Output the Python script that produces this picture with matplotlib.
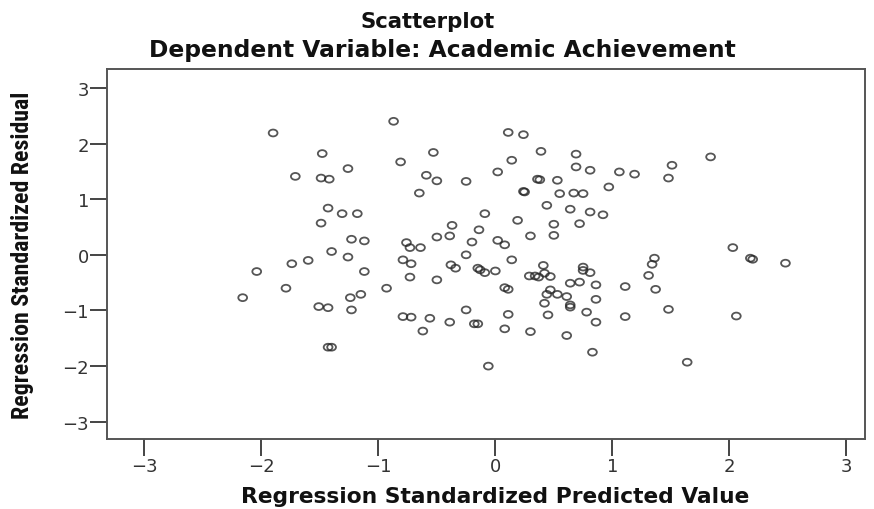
import numpy as np
import matplotlib
matplotlib.use("Agg")
import matplotlib.pyplot as plt
from matplotlib.path import Path
from matplotlib import font_manager

# Regression diagnostics: standardized predicted value vs standardized residual
pred = [
    -1.90, -1.48, -1.26, -1.71, -1.49, -1.42, -1.43, -1.31, -1.18, -1.49,
    -1.23, -1.12, -1.40, -1.26, -1.60, -1.12, -1.74, -2.04, -1.79, -2.16,
    -1.24, -1.15, -1.51, -1.43, -1.23, -1.43, -1.40, -0.81, -0.59, -0.50,
    -0.65, -0.76, -0.73, -0.64, -0.50, -0.79, -0.72, -0.73, -0.50, -0.93,
    -0.79, -0.72, -0.56, -0.62, -0.87, 0.11, 0.24, 0.39, 0.69, -0.53,
    0.14, -0.25, 0.02, 0.36, 0.38, 0.53, 0.69, 0.81, 1.06, 0.24,
    0.25, 0.55, 0.67, 0.75, 0.97, 0.44, 0.64, 0.81, 0.92, -0.09,
    0.19, 0.50, 0.72, 0.50, 0.30, -0.14, -0.37, -0.39, -0.20, 0.02,
    0.08, -0.25, 0.14, -0.38, -0.34, -0.15, -0.13, -0.09, 0.00, 0.41,
    0.29, 0.34, 0.37, 0.42, 0.47, 0.75, 0.75, 0.81, 0.08, 0.11,
    0.47, 0.44, 0.53, 0.61, 0.64, 0.72, 0.86, 1.11, 0.42, 0.64,
    0.64, 0.86, -0.25, 0.11, 0.45, 0.78, 1.11, -0.39, -0.18, -0.15,
    0.08, 0.30, 0.61, 0.86, 0.83, -0.06, 1.19, 1.51, 1.48, 1.84,
    2.03, 1.36, 2.18, 2.20, 2.48, 1.34, 1.31, 1.37, 1.48, 2.06,
    1.64,
]
resid = [
    2.19, 1.82, 1.55, 1.41, 1.38, 1.36, 0.84, 0.74, 0.74, 0.57,
    0.28, 0.25, 0.06, -0.04, -0.10, -0.30, -0.16, -0.30, -0.60, -0.77,
    -0.77, -0.71, -0.93, -0.95, -0.99, -1.66, -1.66, 1.67, 1.43, 1.33,
    1.11, 0.22, 0.13, 0.13, 0.32, -0.09, -0.16, -0.40, -0.45, -0.60,
    -1.11, -1.12, -1.14, -1.37, 2.40, 2.20, 2.16, 1.86, 1.81, 1.84,
    1.70, 1.32, 1.49, 1.36, 1.35, 1.34, 1.58, 1.52, 1.49, 1.14,
    1.13, 1.10, 1.11, 1.10, 1.22, 0.89, 0.82, 0.77, 0.72, 0.74,
    0.62, 0.55, 0.56, 0.35, 0.34, 0.45, 0.53, 0.34, 0.23, 0.26,
    0.18, 0.00, -0.09, -0.18, -0.24, -0.24, -0.27, -0.32, -0.29, -0.19,
    -0.38, -0.38, -0.40, -0.33, -0.39, -0.22, -0.28, -0.32, -0.59, -0.62,
    -0.63, -0.71, -0.71, -0.75, -0.51, -0.49, -0.54, -0.57, -0.87, -0.90,
    -0.94, -0.80, -0.99, -1.07, -1.08, -1.03, -1.11, -1.21, -1.24, -1.24,
    -1.33, -1.38, -1.45, -1.21, -1.75, -2.00, 1.45, 1.61, 1.38, 1.76,
    0.13, -0.06, -0.06, -0.08, -0.15, -0.17, -0.37, -0.62, -0.98, -1.10,
    -1.93,
]
ticks = [-3, -2, -1, 0, 1, 2, 3]
tick_labels = ["\u22123", "\u22122", "\u22121", "0", "1", "2", "3"]

# pick a narrow face for the vertical axis title if one is installed
narrow_family = None
for f in font_manager.fontManager.ttflist:
    if f.name in ("Liberation Sans Narrow", "Roboto Condensed",
                  "Open Sans Condensed", "Noto Sans Condensed",
                  "DejaVu Sans Condensed"):
        narrow_family = f.name
        break
if narrow_family is None:
    for f in font_manager.fontManager.ttflist:
        if f.stretch in ("condensed", "semi-condensed") or \
                (isinstance(f.stretch, int) and f.stretch < 500):
            narrow_family = f.name
            break

W, H = 874, 510
fig = plt.figure(figsize=(W / 100, H / 100), dpi=100)
ax = fig.add_axes([107 / W, 1 - 440 / H, (865 - 107) / W, (440 - 70) / H])

# slightly flattened open ring marker
circ = Path.unit_circle()
ring = Path(circ.vertices * np.array([1.0, 0.78]), circ.codes)
ax.scatter(pred, resid, marker=ring, s=40, facecolors="none",
           edgecolors="#262626", linewidths=1.3, alpha=0.78)

ax.set_xlim(-3.32, 3.16)
ax.set_ylim(-3.31, 3.34)
ax.set_xticks(ticks)
ax.set_yticks(ticks)
ax.set_xticklabels(tick_labels)
ax.set_yticklabels(tick_labels)
ax.tick_params(axis="both", direction="out", length=12, width=1.4,
               color="#444444", labelsize=13, labelcolor="#333333", pad=1)
for sp in ax.spines.values():
    sp.set_color("#555555")
    sp.set_linewidth(1.4)

t1 = fig.text(428 / W, 1 - 22 / H, "Scatterplot", ha="center", va="center",
              fontsize=12.5, fontweight="bold", color="#111111")
t2 = fig.text(442 / W, 1 - 50 / H, "Dependent Variable: Academic Achievement",
              ha="center", va="center", fontsize=12.5, fontweight="bold",
              color="#111111")
xl = fig.text(495 / W, 1 - 497 / H, "Regression Standardized Predicted Value",
              ha="center", va="center", fontsize=12.5, fontweight="bold",
              color="#111111")
yfam = [narrow_family, "DejaVu Sans"] if narrow_family else ["DejaVu Sans"]
yl = fig.text(23 / W, 1 - 255 / H, "Regression Standardized Residual",
              ha="center", va="center", rotation=90, fontsize=12.5,
              fontweight="bold", family=yfam, color="#111111")


def fit(txt, target, vertical=False):
    fig.canvas.draw()
    bb = txt.get_window_extent()
    size = bb.height if vertical else bb.width
    txt.set_fontsize(txt.get_fontsize() * target / size)


fit(t1, 147 * 0.92)
fit(t2, 639 * 0.92)
fit(xl, 555 * 0.92)
fit(yl, 327, vertical=True)

fig.savefig("out.png", dpi=100)
